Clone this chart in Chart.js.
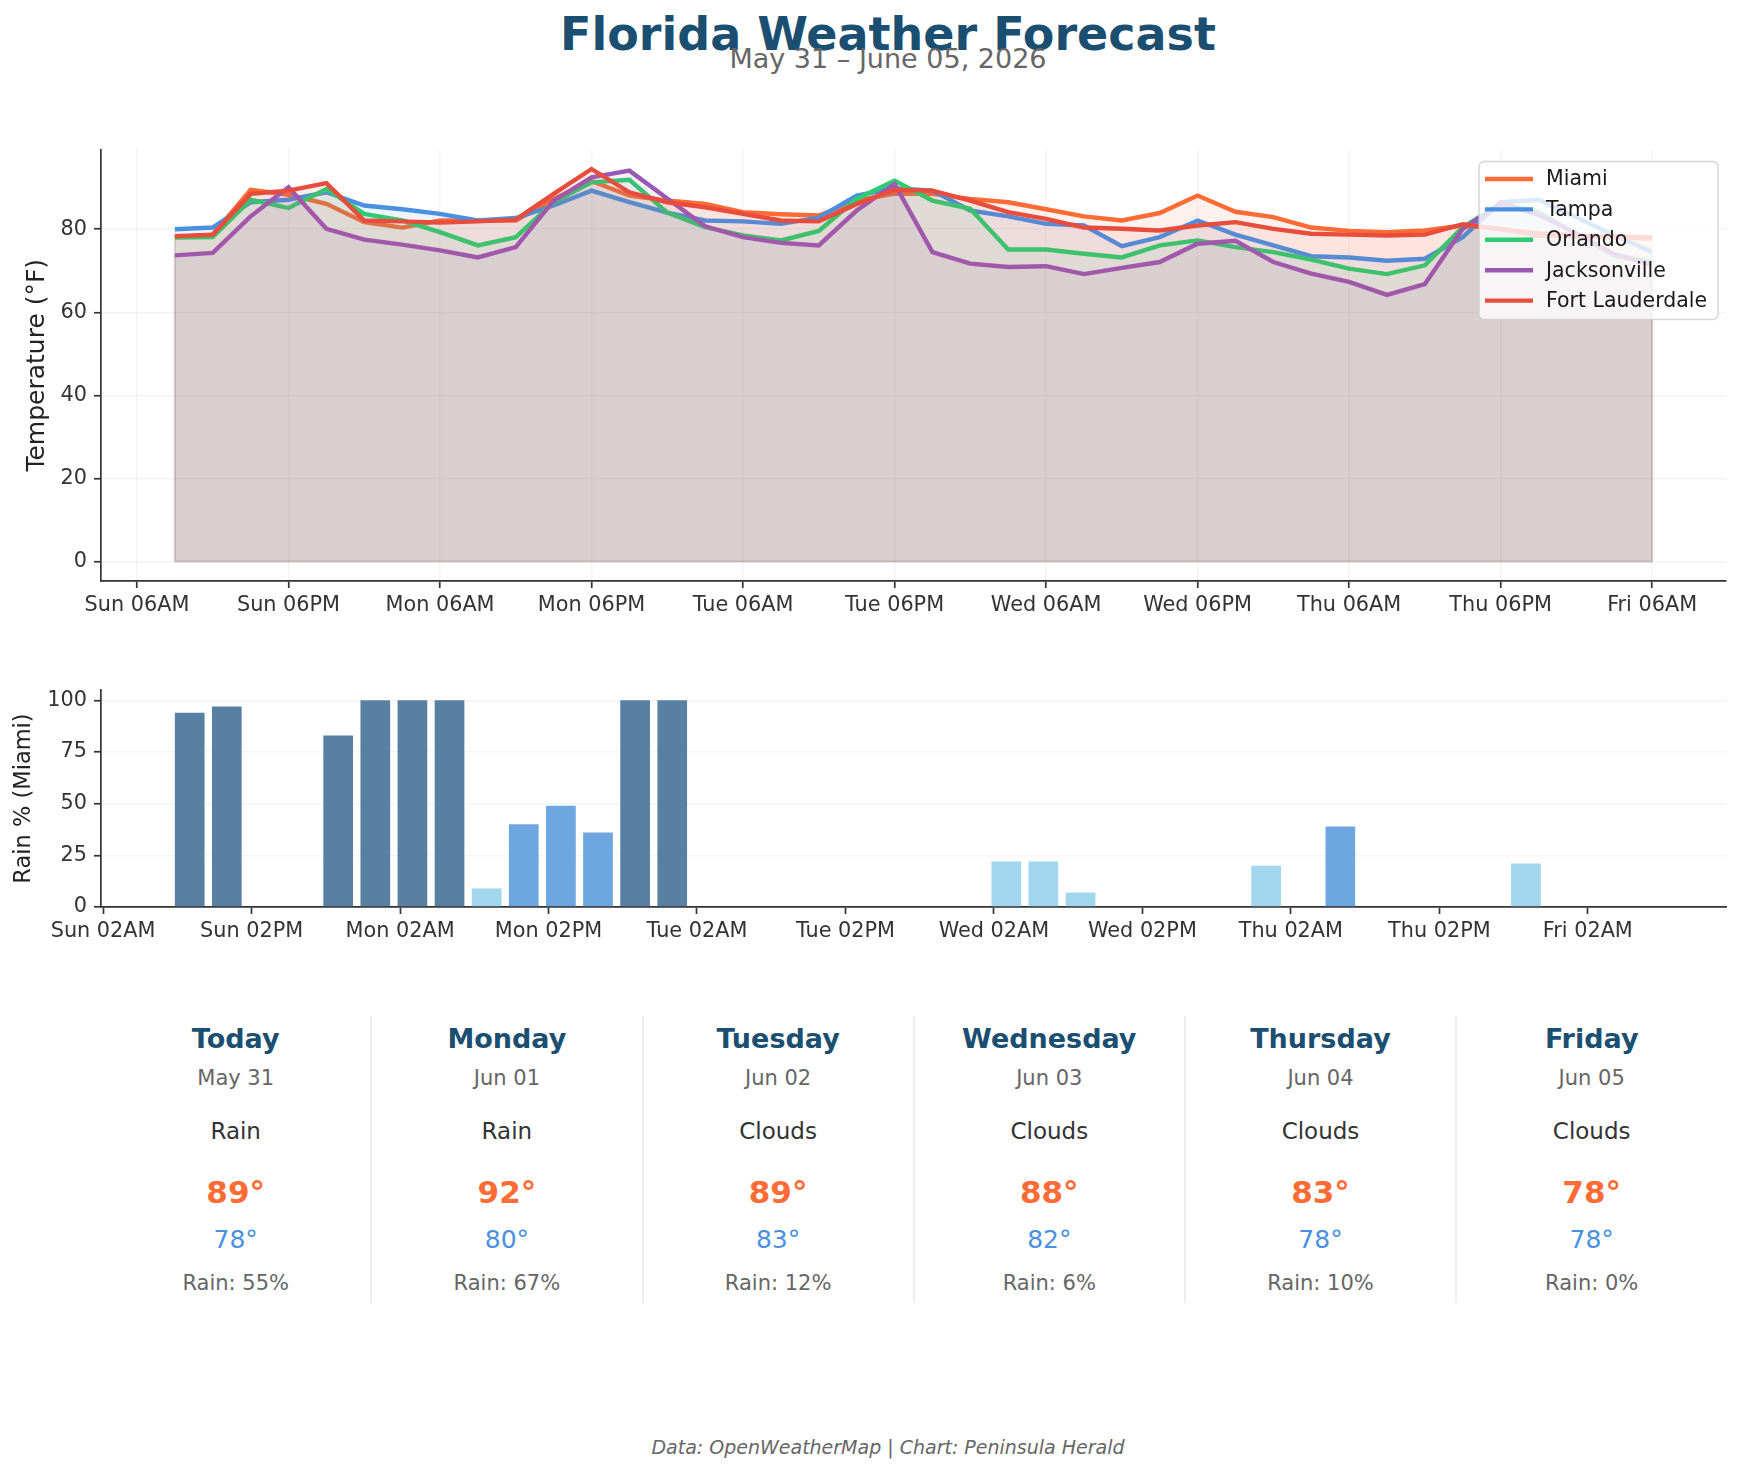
<!DOCTYPE html>
<html>
<head>
<meta charset="utf-8">
<title>Florida Weather Forecast</title>
<script src="https://cdn.jsdelivr.net/npm/chart.js@4.4.1/dist/chart.umd.min.js"></script>
<style>
    body { margin: 0; background: #fff; }
    #page { position: relative; width: 1743px; height: 1474px; overflow: hidden; font-family: 'DejaVu Sans', sans-serif; }
    .txt { position: absolute; white-space: nowrap; line-height: 1; text-align: center; }
    canvas { position: absolute; left: 0; }
    .sep { position: absolute; top: 1016px; height: 287px; width: 2px; background: #eeeeee; }
</style>
</head>
<body>
<div id="page">
    <div class="txt" style="left:0;width:1776px;top:11px;font-size:46px;font-weight:bold;color:#1B4F72;">Florida Weather Forecast</div>
    <div class="txt" style="left:0;width:1776px;top:45px;font-size:27px;color:#666;">May 31 – June 05, 2026</div>
    <canvas id="temperatureChart" width="1743" height="520" style="top:130px"></canvas>
    <canvas id="rainChart" width="1743" height="300" style="top:670px"></canvas>
    <div id="cards"></div>
    <div class="txt" style="left:0;width:1776px;top:1438px;font-size:19px;font-style:italic;color:#666;">Data: OpenWeatherMap | Chart: Peninsula Herald</div>
</div>

<script>
// forecast steps, hours after Sun 00:00 (3-hourly)
const forecastHours = [9, 12, 15, 18, 21, 24, 27, 30, 33, 36, 39, 42, 45, 48, 51, 54, 57, 60, 63, 66,
    69, 72, 75, 78, 81, 84, 87, 90, 93, 96, 99, 102, 105, 108, 111, 114, 117, 120, 123, 126];

const cities = ['Miami', 'Tampa', 'Orlando', 'Jacksonville', 'Fort Lauderdale'];

const miamiTemps = [78.1, 78.7, 89.5, 88.3, 86.1, 81.7, 80.4, 82.1, 82.1, 82.1, 87.3, 91.6, 88.1, 86.9, 86.1, 84.1, 83.6, 83.3, 86.9, 88.6,
    88.5, 87.3, 86.5, 84.8, 83.1, 82.1, 83.9, 88.1, 84.2, 82.9, 80.4, 79.6, 79.3, 79.7, 80.9, 80.1, 78.4, 78.3, 78.0, 77.7];
const tampaTemps = [80.0, 80.4, 86.5, 87.1, 88.9, 85.7, 84.8, 83.7, 82.1, 82.7, 85.7, 89.3, 86.5, 84.0, 82.1, 81.9, 81.3, 82.8, 88.1, 89.9,
    89.3, 84.5, 83.1, 81.3, 80.9, 75.9, 78.1, 82.1, 78.7, 76.1, 73.5, 73.2, 72.4, 72.9, 78.1, 86.5, 87.1, 82.9, 78.5, 74.5];
const orlandoTemps = [78.0, 78.1, 87.1, 85.1, 89.7, 83.7, 82.1, 79.3, 76.1, 78.1, 86.5, 91.3, 91.9, 84.0, 80.5, 78.5, 77.3, 79.6, 87.3, 91.7,
    86.9, 84.9, 75.1, 75.1, 74.1, 73.2, 76.1, 77.3, 75.7, 74.5, 72.7, 70.5, 69.2, 71.3, 80.5, 86.1, 84.1, 78.9, 73.7, 72.1];
const jacksonvilleTemps = [73.7, 74.3, 83.1, 90.1, 80.1, 77.5, 76.3, 74.9, 73.2, 75.7, 86.9, 92.5, 94.1, 87.4, 80.7, 78.1, 76.7, 76.1, 84.5, 90.9,
    74.5, 71.7, 70.9, 71.1, 69.2, 70.7, 72.1, 76.5, 77.2, 72.1, 69.3, 67.3, 64.2, 66.8, 80.1, 86.3, 83.5, 79.0, 74.0, 71.5];
const fortLauderdaleTemps = [78.3, 78.7, 88.5, 89.3, 91.1, 82.1, 81.9, 81.6, 81.9, 82.3, 88.5, 94.5, 88.9, 86.5, 85.3, 83.7, 82.1, 81.9, 86.1, 89.5,
    89.3, 86.9, 84.1, 82.5, 80.4, 80.1, 79.7, 80.9, 81.7, 80.1, 78.9, 78.7, 78.5, 78.7, 81.2, 80.0, 79.0, 78.5, 78.3, 78.0];

// Miami precipitation probability (%)
const miamiRain = [94, 97, 0, 0, 83, 100, 100, 100, 9, 40, 49, 36, 100, 100, 0, 0, 0, 0, 0, 0,
    0, 0, 22, 22, 7, 0, 0, 0, 0, 20, 0, 39, 0, 0, 0, 0, 21, 0, 0, 0];

// axis ticks
const tempTickHours = [6, 18, 30, 42, 54, 66, 78, 90, 102, 114, 126];
const tempTickLabels = ['Sun 06AM', 'Sun 06PM', 'Mon 06AM', 'Mon 06PM', 'Tue 06AM', 'Tue 06PM',
    'Wed 06AM', 'Wed 06PM', 'Thu 06AM', 'Thu 06PM', 'Fri 06AM'];
const tempYTicks = [0, 20, 40, 60, 80];
const rainTickHours = [2, 14, 26, 38, 50, 62, 74, 86, 98, 110, 122];
const rainTickLabels = ['Sun 02AM', 'Sun 02PM', 'Mon 02AM', 'Mon 02PM', 'Tue 02AM', 'Tue 02PM',
    'Wed 02AM', 'Wed 02PM', 'Thu 02AM', 'Thu 02PM', 'Fri 02AM'];
const rainYTicks = [0, 25, 50, 75, 100];

// daily summary cards
const cardDays = ['Today', 'Monday', 'Tuesday', 'Wednesday', 'Thursday', 'Friday'];
const cardDates = ['May 31', 'Jun 01', 'Jun 02', 'Jun 03', 'Jun 04', 'Jun 05'];
const cardConditions = ['Rain', 'Rain', 'Clouds', 'Clouds', 'Clouds', 'Clouds'];
const cardHighs = [89, 92, 89, 88, 83, 78];
const cardLows = [78, 80, 83, 82, 78, 78];
const cardRain = [55, 67, 12, 6, 10, 0];

const cityColors = ['255,107,53', '74,144,226', '46,204,113', '155,89,182', '231,76,60'];

document.addEventListener('DOMContentLoaded', function () {
    Chart.defaults.font.family = "'DejaVu Sans', sans-serif";
    Chart.defaults.color = '#333';

    const axisBorder = { color: '#333', width: 1.7 };
    const tickFont = { size: 20.8 };

    // legend drawn inside the plot, upper right
    const insideLegend = {
        id: 'insideLegend',
        afterDatasetsDraw(chart) {
            const ctx = chart.ctx, area = chart.chartArea;
            const w = 239, h = 158;
            const x = area.right - 8 - w, y = area.top + 12;
            ctx.save();
            ctx.fillStyle = 'rgba(255,255,255,0.8)';
            ctx.strokeStyle = 'rgba(204,204,204,0.8)';
            ctx.lineWidth = 1.5;
            ctx.beginPath();
            ctx.roundRect(x, y, w, h, 5);
            ctx.fill();
            ctx.stroke();
            ctx.font = "20.5px 'DejaVu Sans'";
            ctx.textBaseline = 'middle';
            chart.data.datasets.forEach(function (ds, i) {
                const cy = y + 17.5 + i * 30.4;
                ctx.strokeStyle = ds.borderColor;
                ctx.lineWidth = 4.4;
                ctx.beginPath();
                ctx.moveTo(x + 6, cy);
                ctx.lineTo(x + 54, cy);
                ctx.stroke();
                ctx.fillStyle = '#1a1a1a';
                ctx.fillText(ds.label, x + 67, cy + 1);
            });
            ctx.restore();
        }
    };

    // thin outline around each filled area (like fill_between edges)
    const fillEdges = {
        id: 'fillEdges',
        beforeDatasetsDraw(chart) {
            const ctx = chart.ctx;
            const y0 = chart.scales.y.getPixelForValue(0);
            ctx.save();
            chart.data.datasets.forEach(function (ds, i) {
                const pts = chart.getDatasetMeta(i).data;
                ctx.strokeStyle = ds.backgroundColor;
                ctx.lineWidth = 2;
                ctx.beginPath();
                ctx.moveTo(pts[0].x, y0);
                pts.forEach(p => ctx.lineTo(p.x, p.y));
                ctx.lineTo(pts[pts.length - 1].x, y0);
                ctx.closePath();
                ctx.stroke();
            });
            ctx.restore();
        }
    };

    // Temperature Chart
    const tempSeries = [miamiTemps, tampaTemps, orlandoTemps, jacksonvilleTemps, fortLauderdaleTemps];
    new Chart(document.getElementById('temperatureChart').getContext('2d'), {
        type: 'line',
        data: {
            datasets: tempSeries.map(function (temps, i) {
                return {
                    label: cities[i],
                    data: temps.map((t, k) => ({ x: forecastHours[k], y: t })),
                    borderColor: 'rgb(' + cityColors[i] + ')',
                    backgroundColor: 'rgba(' + cityColors[i] + ',0.085)',
                    borderWidth: 4.4,
                    fill: 'origin',
                    tension: 0,
                    pointRadius: 0,
                    order: cities.length - 1 - i
                };
            })
        },
        options: {
            responsive: false,
            animation: false,
            devicePixelRatio: 1,
            layout: { padding: { left: 0, right: 17, top: 18, bottom: 19 } },
            plugins: { legend: { display: false }, tooltip: { enabled: false } },
            scales: {
                x: {
                    type: 'linear',
                    min: 3.15,
                    max: 131.85,
                    afterBuildTicks: s => { s.ticks = tempTickHours.map(v => ({ value: v })); },
                    afterFit: s => { s.height = 50; },
                    ticks: {
                        callback: (v, i) => tempTickLabels[i],
                        font: tickFont,
                        padding: 5,
                        maxRotation: 0,
                        autoSkip: false
                    },
                    grid: { color: 'rgba(0,0,0,0.045)', lineWidth: 1.5, tickColor: '#333', tickLength: 7, tickWidth: 1.7 },
                    border: axisBorder
                },
                y: {
                    min: -4.7,
                    max: 99.2,
                    afterBuildTicks: s => { s.ticks = tempYTicks.map(v => ({ value: v })); },
                    afterFit: s => { s.width = 101; },
                    ticks: { font: tickFont, padding: 7 },
                    grid: { color: 'rgba(0,0,0,0.045)', lineWidth: 1.5, tickColor: '#333', tickLength: 7, tickWidth: 1.7 },
                    border: axisBorder,
                    title: {
                        display: true,
                        text: 'Temperature (°F)',
                        color: '#222',
                        font: { size: 25 },
                        padding: { top: 22, bottom: 0 }
                    }
                }
            }
        },
        plugins: [fillEdges, insideLegend]
    });

    // Rain Chart
    function rainColor(p) {
        if (p >= 70) return '#5880A3';
        if (p >= 30) return '#6EA7DF';
        return '#A0D7EC';
    }

    new Chart(document.getElementById('rainChart').getContext('2d'), {
        type: 'bar',
        data: {
            datasets: [{
                label: 'Rain % (Miami)',
                data: miamiRain.map((p, k) => ({ x: forecastHours[k], y: p })),
                backgroundColor: miamiRain.map(rainColor),
                borderWidth: 0,
                barPercentage: 0.8,
                categoryPercentage: 1.0
            }]
        },
        options: {
            responsive: false,
            animation: false,
            devicePixelRatio: 1,
            layout: { padding: { left: 0, right: 17, top: 20, bottom: 13 } },
            plugins: { legend: { display: false }, tooltip: { enabled: false } },
            scales: {
                x: {
                    type: 'linear',
                    offset: false,
                    min: 1.83,
                    max: 133.17,
                    z: 1,
                    afterBuildTicks: s => { s.ticks = rainTickHours.map(v => ({ value: v })); },
                    afterFit: s => { s.height = 50; },
                    ticks: {
                        callback: (v, i) => rainTickLabels[i],
                        font: tickFont,
                        padding: 5,
                        maxRotation: 0,
                        autoSkip: false
                    },
                    grid: { offset: false, color: 'rgba(0,0,0,0)', tickColor: '#333', tickLength: 7, tickWidth: 1.7 },
                    border: axisBorder
                },
                y: {
                    min: 0,
                    max: 105,
                    afterBuildTicks: s => { s.ticks = rainYTicks.map(v => ({ value: v })); },
                    afterFit: s => { s.width = 101; },
                    ticks: { font: tickFont, padding: 7 },
                    grid: { color: 'rgba(0,0,0,0.045)', lineWidth: 1.5, tickColor: '#333', tickLength: 7, tickWidth: 1.7 },
                    border: axisBorder,
                    title: {
                        display: true,
                        text: 'Rain % (Miami)',
                        color: '#222',
                        font: { size: 22.5 },
                        padding: { top: 11, bottom: 0 }
                    }
                }
            }
        }
    });

    // Daily cards
    const cards = document.getElementById('cards');
    const colW = 271.2, colLeft = 100.1;
    cardDays.forEach(function (day, k) {
        const left = colLeft + k * colW;
        const rows = [
            { text: day, top: 1025, size: 27, color: '#1B4F72', bold: true },
            { text: cardDates[k], top: 1068, size: 21, color: '#666' },
            { text: cardConditions[k], top: 1119.5, size: 23, color: '#333' },
            { text: cardHighs[k] + '°', top: 1177, size: 31, color: '#FF6B35', bold: true },
            { text: cardLows[k] + '°', top: 1227, size: 25, color: '#4A90E2' },
            { text: 'Rain: ' + cardRain[k] + '%', top: 1273, size: 21, color: '#666' }
        ];
        rows.forEach(function (r) {
            const el = document.createElement('div');
            el.className = 'txt';
            el.textContent = r.text;
            el.style.left = left + 'px';
            el.style.width = colW + 'px';
            el.style.top = r.top + 'px';
            el.style.fontSize = r.size + 'px';
            el.style.color = r.color;
            if (r.bold) el.style.fontWeight = 'bold';
            cards.appendChild(el);
        });
        if (k > 0) {
            const sep = document.createElement('div');
            sep.className = 'sep';
            sep.style.left = (left - 1) + 'px';
            cards.appendChild(sep);
        }
    });
});
</script>
</body>
</html>
